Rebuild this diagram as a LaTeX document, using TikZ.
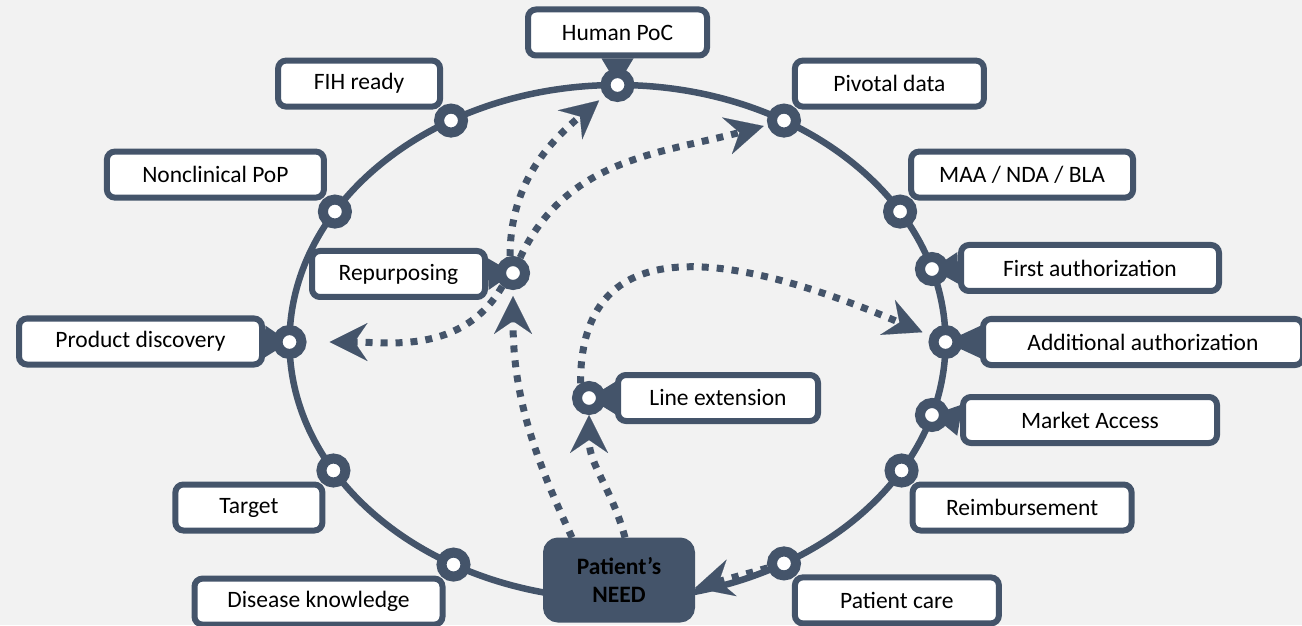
\documentclass[tikz,border=0pt]{standalone}
\usepackage{fontspec}
\setmainfont{Carlito}
\usetikzlibrary{arrows.meta,calc}
\definecolor{slate}{HTML}{44546A}
\definecolor{paper}{HTML}{F2F2F2}
\tikzset{
  stage/.style={draw=slate, line width=6pt, fill=white, rounded corners=8pt,
    minimum height=46pt, inner sep=0pt, font=\fontsize{23.5}{28}\selectfont},
  milestone/.style={circle, draw=slate, line width=10pt, fill=white,
    minimum size=24pt, inner sep=0pt},
  flow/.style={draw=slate, line width=7pt, dash pattern=on 7pt off 8pt,
    -{Stealth[length=38pt, width=38pt, inset=13pt, line width=0.1pt]}},
  need/.style={draw=slate, fill=slate, line width=6pt, rounded corners=12pt,
    minimum width=146pt, minimum height=79pt, align=center,
    font=\fontsize{23.5}{28}\selectfont\bfseries},
}
\begin{document}
\begin{tikzpicture}[x=1pt, y=1pt]

\useasboundingbox (0,0) rectangle (1302,625);
\fill[paper] (0,0) rectangle (1302,625);

\coordinate (c) at (617.5,283);
\draw[slate, line width=6.5pt] (c) ellipse [x radius=328, y radius=257];

% stages whose box corner sits under the ring marker
\foreach \a/\n/\bx/\by/\bw/\txt in {
	120.5/fih/359.1/541.4/162/FIH ready,
	149.5/ncpop/215.4/450.4/217/Nonclinical PoP,
	210/target/248.9/117.5/147/Target,
	240/dk/318.5/23.4/248/Disease knowledge,
	59.5/pivotal/889.4/541.4/189/Pivotal data,
	30.5/maa/1022.1/450.4/222/{MAA / NDA / BLA},
	-30/reimb/1022.1/117.5/219/Reimbursement,
	-59.5/pcare/896.9/24.6/204/Patient care}
{
	\node[stage, minimum width=\bw] (b-\n) at (\bx,\by) {\txt};
	\node[milestone] (m-\n) at ($(c)+(\a:328 and 257)$) {};
}

% stages joined to the marker by a wedge
\foreach \a/\n/\bx/\by/\bw/\anc/\txt in {
	90/hpoc/617.5/592.5/179/south/Human PoC,
	180/pdisc/140.5/283.5/243/east/Product discovery,
	16.5/fa/1090/357/258/west/First authorization,
	0/aa/1143/283/320/west/Additional authorization,
	-16.5/ma/1090/205/254/west/Market Access}
{
	\coordinate (p-\n) at ($(c)+(\a:328 and 257)$);
	\node[stage, minimum width=\bw] (b-\n) at (\bx,\by) {\txt};
	\fill[slate] ($(b-\n.\anc)!16pt!90:(p-\n)$) -- (p-\n) -- ($(b-\n.\anc)!16pt!-90:(p-\n)$) -- cycle;
	\node[milestone] (m-\n) at (p-\n) {};
}

\foreach \n/\px/\py/\bx/\by/\bw/\anc/\txt in {
	rep/513/352/398.5/351/173/east/Repurposing,
	lext/589/227/718/227/200/west/Line extension}
{
	\coordinate (p-\n) at (\px,\py);
	\node[stage, minimum width=\bw] (b-\n) at (\bx,\by) {\txt};
	\fill[slate] ($(b-\n.\anc)!16pt!90:(p-\n)$) -- (p-\n) -- ($(b-\n.\anc)!16pt!-90:(p-\n)$) -- cycle;
	\node[milestone] (m-\n) at (p-\n) {};
}

\node[need] (need) at (619,45) {Patient’s\\NEED};

\draw[flow, shorten >=6pt] ([xshift=-47pt]need.north) to[out=115, in=270] (m-rep);
\draw[flow] ([xshift=6pt]need.north) to[out=105, in=270] (m-lext);
\draw[flow, shorten >=7pt] (m-rep.100) to[out=90, in=220] (m-hpoc);
\draw[flow, shorten >=4pt] (m-rep.65) to[out=65, in=195] (m-pivotal);
\draw[flow, shorten >=23pt] (m-rep.231) to[out=240, in=0] (m-pdisc);
\draw[flow, shorten >=8pt] (m-lext.120) to[out=90, in=157, out distance=140, in distance=250] (m-aa);
\draw[flow] (m-pcare) -- ([yshift=-8pt]need.east);

\end{tikzpicture}
\end{document}
